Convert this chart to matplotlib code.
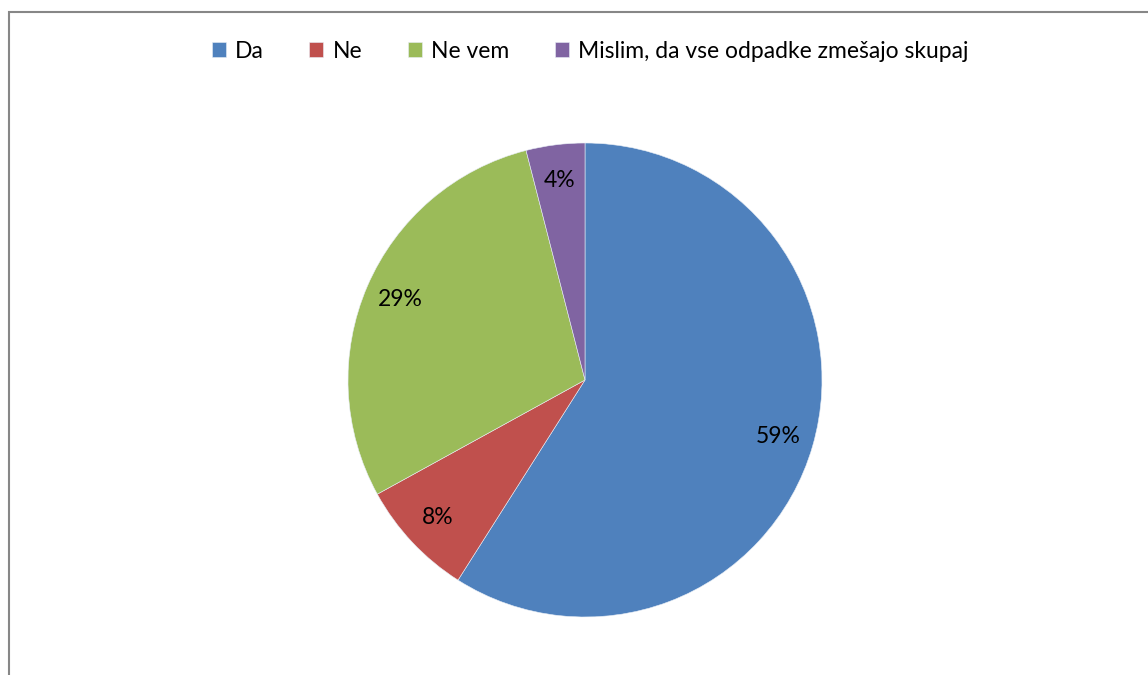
import matplotlib.pyplot as plt
from matplotlib.patches import Rectangle

plt.rcParams['font.family'] = ['Lato', 'DejaVu Sans']

labels = ['Da', 'Ne', 'Ne vem', 'Mislim, da vse odpadke zmešajo skupaj']
values = [59, 8, 29, 4]
colors = ['#4F81BD', '#C0504D', '#9BBB59', '#8064A2']

W, H = 1148, 675
fig = plt.figure(figsize=(W / 100, H / 100), dpi=100)

# grey chart frame, open at the right and bottom
fig.patches.append(Rectangle((9 / W, -0.1), 1.2, 1.1 - 12 / H,
                             transform=fig.transFigure, fill=False,
                             edgecolor='#878787', linewidth=1.5))

cx, cy, r = 585, 380, 237
ax = fig.add_axes([(cx - r) / W, (H - cy - r) / H, 2 * r / W, 2 * r / H])
wedges, texts, autotexts = ax.pie(values, colors=colors, startangle=90,
                                  counterclock=False, radius=1,
                                  autopct=lambda p: '%d%%' % round(p),
                                  pctdistance=0.85,
                                  wedgeprops={'edgecolor': '#e8eef6', 'linewidth': 0.4},
                                  textprops={'fontsize': 16.5, 'color': 'black'})
ax.set_xlim(-1, 1)
ax.set_ylim(-1, 1)
ax.set_aspect('auto')
ax.axis('off')

fig.legend(wedges, labels, loc='center', bbox_to_anchor=(590 / W, 1 - 51 / H),
           ncol=4, frameon=False, fontsize=16.5, handlelength=0.6, handleheight=0.6,
           handletextpad=0.4, columnspacing=2.0)

fig.savefig('out.png', dpi=100, facecolor='white')
